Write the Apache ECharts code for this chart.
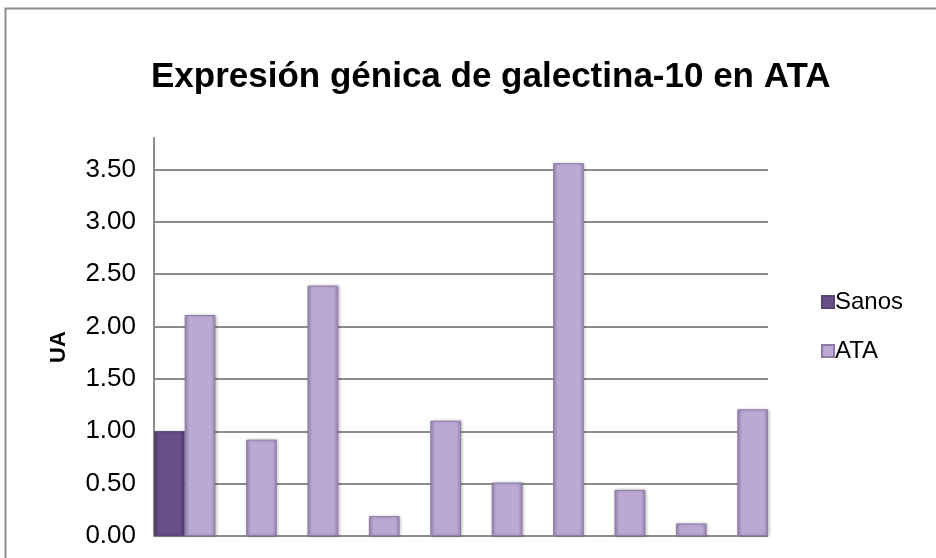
<!DOCTYPE html>
<html>
<head>
<meta charset="utf-8">
<script src="https://cdn.jsdelivr.net/npm/echarts@6/dist/echarts.min.js"></script>
<style>
  html, body { margin: 0; padding: 0; background: #fff; }
  #chart { width: 936px; height: 558px; }
</style>
</head>
<body>
<div id="chart"></div>
<script>
// Galectin-10 gene expression: healthy control vs ATA samples
const categories = ['1', '2', '3', '4', '5', '6', '7', '8', '9', '10'];
const sanosValues = [1.00, null, null, null, null, null, null, null, null, null];
const ataValues = [2.11, 0.92, 2.39, 0.19, 1.10, 0.51, 3.56, 0.44, 0.12, 1.21];
const yTicks = [0, 0.5, 1, 1.5, 2, 2.5, 3, 3.5];

// horizontal shading so each bar looks slightly bevelled
function bevel(edge, mid) {
  return {
    type: 'linear', x: 0, y: 0, x2: 1, y2: 0,
    colorStops: [
      { offset: 0, color: edge },
      { offset: 0.15, color: mid },
      { offset: 0.85, color: mid },
      { offset: 1, color: edge }
    ]
  };
}

const chart = echarts.init(document.getElementById('chart'), null, { renderer: 'canvas' });
const font = 'Liberation Sans, Arial, sans-serif';
const gridColors = yTicks.map(() => '#8c8c8c').concat(['rgba(0,0,0,0)']);

chart.setOption({
  animation: false,
  backgroundColor: '#fff',
  title: {
    text: 'Expresión génica de galectina-10 en ATA',
    left: 146,
    top: 55,
    textStyle: { fontFamily: font, fontSize: 35, fontWeight: 'bold', color: '#000' }
  },
  legend: {
    orient: 'vertical',
    left: 816,
    top: 285,
    itemWidth: 12,
    itemHeight: 12,
    itemGap: 25,
    icon: 'rect',
    textStyle: { fontFamily: font, fontSize: 24, color: '#000', padding: [0, 0, 0, -4] },
    data: [
      { name: 'Sanos', itemStyle: { color: '#684f88' } },
      { name: 'ATA', itemStyle: { color: '#bba9d4' } }
    ]
  },
  grid: { left: 154, right: 168, top: 138, bottom: 22 },
  xAxis: {
    type: 'category',
    data: categories,
    axisLine: { show: false },
    axisTick: { show: false },
    axisLabel: { show: false }
  },
  yAxis: {
    type: 'value',
    min: 0,
    max: 3.8,
    interval: 0.5,
    name: 'UA',
    nameLocation: 'middle',
    nameGap: 84,
    nameRotate: 90,
    nameTextStyle: { fontFamily: font, fontSize: 22, fontWeight: 'bold', color: '#000', padding: [0, 20, 0, 0] },
    axisLine: { show: true, lineStyle: { color: '#8c8c8c', width: 2 } },
    axisTick: { show: false },
    axisLabel: {
      showMaxLabel: false,
      margin: 18,
      fontFamily: font,
      fontSize: 26,
      color: '#000',
      formatter: v => v.toFixed(2)
    },
    splitLine: { show: true, lineStyle: { color: gridColors, width: 2 } }
  },
  series: [
    {
      name: 'Sanos',
      type: 'bar',
      data: sanosValues,
      barGap: 0,
      barCategoryGap: 0,
      itemStyle: {
        color: bevel('#4f3a6b', '#684f88'),
        borderColor: '#5a4478',
        borderWidth: 1,
        shadowColor: 'rgba(0,0,0,0.25)',
        shadowBlur: 3,
        shadowOffsetX: 1
      }
    },
    {
      name: 'ATA',
      type: 'bar',
      data: ataValues,
      barGap: 0,
      barCategoryGap: 0,
      itemStyle: {
        color: bevel('#9c89b5', '#bba9d4'),
        borderColor: '#8e7ca8',
        borderWidth: 1,
        shadowColor: 'rgba(0,0,0,0.25)',
        shadowBlur: 3,
        shadowOffsetX: 1
      }
    }
  ],
  graphic: [
    {
      type: 'rect',
      shape: { x: 5.5, y: 8.5, width: 960, height: 600 },
      style: { fill: 'none', stroke: '#8c8c8c', lineWidth: 2 },
      silent: true,
      z: -1
    }
  ]
});
</script>
</body>
</html>
